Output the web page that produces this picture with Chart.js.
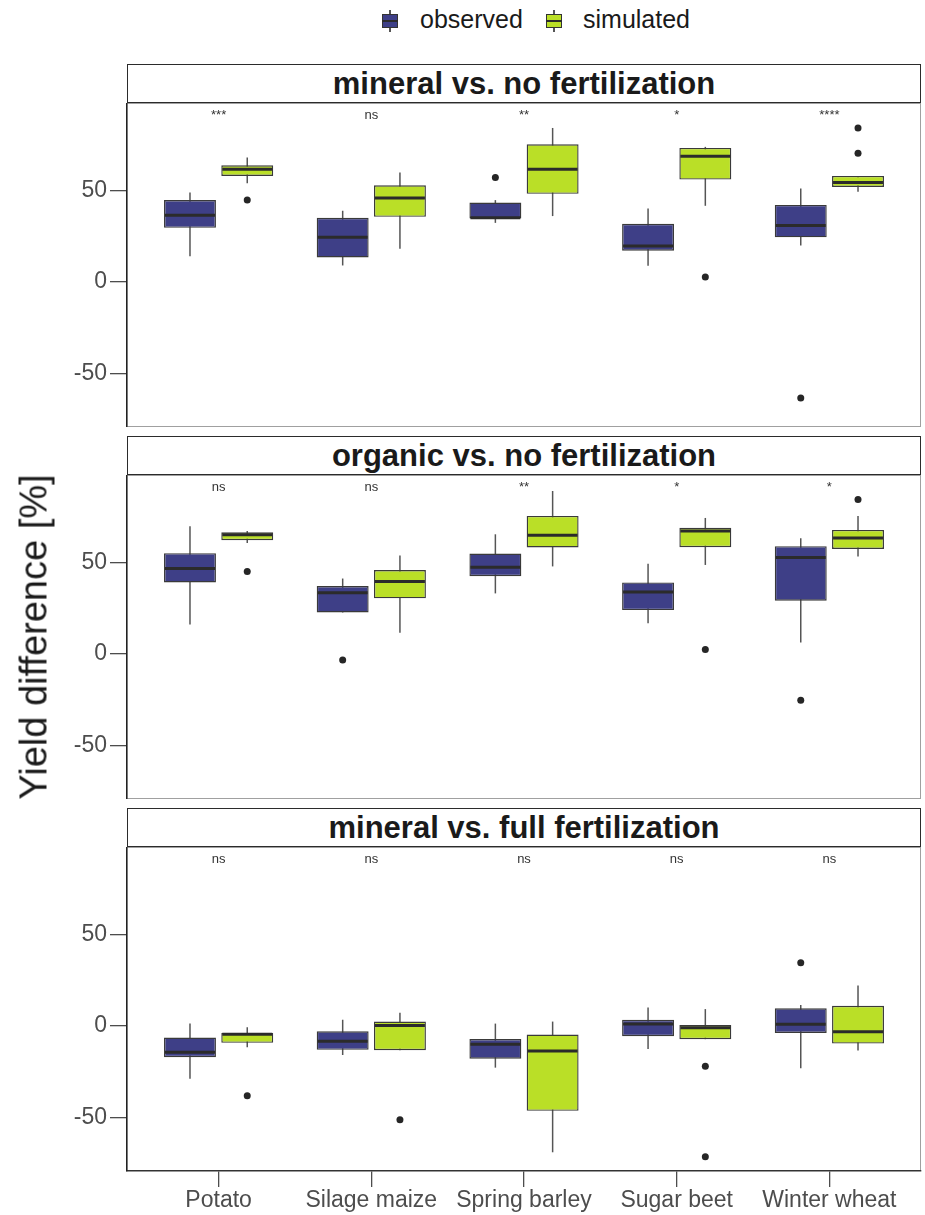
<!DOCTYPE html>
<html>
<head>
<meta charset="utf-8">
<script src="https://cdn.jsdelivr.net/npm/chart.js@4/dist/chart.umd.min.js"></script>
<style>
  body { margin: 0; background: #fff; font-family: "Liberation Sans", Arial, sans-serif; }
  #page { position: relative; width: 925px; height: 1215px; overflow: hidden; }
  canvas { position: absolute; left: 0; }
  .strip { position: absolute; left: 127px; width: 794px; height: 39px; box-sizing: border-box;
           border: 1.5px solid #2b2b2b; background: #fff; display: flex; align-items: center;
           justify-content: center; font-weight: bold; font-size: 31px; color: #1a1a1a; z-index: 2; }
  .key { position: absolute; top: 10px; width: 16px; height: 22px; }
  .key .w { position: absolute; left: 7.4px; top: 0; width: 1.2px; height: 22px; background: #555; }
  .key .b { position: absolute; left: 0; top: 4px; width: 16px; height: 14px; box-sizing: border-box; border: 1px solid #333; }
  .key .m { position: absolute; left: 0; top: 10px; width: 16px; height: 2px; background: #2b2b2b; }
  .ktext { position: absolute; top: 7px; font-size: 25px; line-height: 25px; color: #1a1a1a; }
  #ytitle { position: absolute; left: 34px; top: 637px; transform: translate(-50%, -50%) rotate(-90deg);
            font-size: 38px; color: #1a1a1a; white-space: nowrap; }
</style>
</head>
<body>
<div id="page">
  <div class="key" style="left:382px"><div class="w"></div><div class="b" style="background:#3e3f87"></div><div class="m"></div></div>
  <div class="ktext" style="left:420px">observed</div>
  <div class="key" style="left:546px"><div class="w"></div><div class="b" style="background:#badf27"></div><div class="m"></div></div>
  <div class="ktext" style="left:583px">simulated</div>

  <div class="strip" style="top:64px">mineral vs. no fertilization</div>
  <canvas id="p1" width="925" height="324" style="top:103px"></canvas>
  <div class="strip" style="top:436px">organic vs. no fertilization</div>
  <canvas id="p2" width="925" height="324" style="top:475px"></canvas>
  <div class="strip" style="top:808px">mineral vs. full fertilization</div>
  <canvas id="p3" width="925" height="368" style="top:847px"></canvas>

  <div id="ytitle">Yield difference [%]</div>
</div>

<script>
// crops on the x axis
const crops = ['Potato', 'Silage maize', 'Spring barley', 'Sugar beet', 'Winter wheat'];
const yTicks = [-50, 0, 50];

// box stats per crop: [lower whisker, Q1, median, Q3, upper whisker]
// mineral vs. no fertilization
const p1Observed = [[14, 29.5, 36.4, 44.6, 48.7], [9, 13.4, 24.3, 35, 38.8], [32.2, 34.6, 35, 43.3, 44.6], [8.9, 17, 19.6, 31.7, 40], [19.9, 24.3, 30.8, 42, 50.9]];
const p1Simulated = [[53.8, 57.8, 61.4, 63.6, 67.8], [18.1, 35.5, 45.8, 52.7, 59.6], [35.9, 48, 61.4, 75, 83.9], [41.5, 55.8, 68.5, 73, 73.6], [49.1, 51.8, 54.2, 57.8, 57.8]];
const p1ObsOut = [[], [], [56.9], [], [-63.2]];
const p1SimOut = [[44.6], [], [], [2.7], [70.1, 83.9]];
const p1Signif = ['***', 'ns', '**', '*', '****'];

// organic vs. no fertilization
const p2Observed = [[16.1, 39, 46.6, 54.9, 69.6], [22.6, 22.6, 33.3, 37, 41.1], [33, 42.4, 47.3, 54.7, 65.2], [16.7, 23.9, 33.7, 39, 49.1], [6.2, 29, 52.5, 58.7, 63]];
const p2Simulated = [[60.5, 62, 65, 66.3, 67], [11.6, 30.3, 39.5, 45.7, 53.6], [47.7, 58, 64.7, 75.2, 88.8], [48.5, 58.2, 67, 68.7, 74.1], [53.1, 57.2, 63.2, 67.6, 75.2]];
const p2ObsOut = [[], [-3.3], [], [], [-25.2]];
const p2SimOut = [[44.9], [], [], [2.4], [84.1]];
const p2Signif = ['ns', 'ns', '**', '*', '*'];

// mineral vs. full fertilization
const p3Observed = [[-28.8, -17, -14.3, -6.3, 1.3], [-15.8, -13, -8.3, -2.9, 3.4], [-22.7, -17.8, -10, -7.1, 1.3], [-12.5, -5.6, 1.1, 3.4, 10.1], [-23, -3.8, 0.9, 9.6, 11.4]];
const p3Simulated = [[-11.6, -9.2, -4.5, -3.8, -0.7], [-13.2, -13.2, 0.2, 2.4, 7.2], [-68.8, -46.2, -13.6, -4.7, 2.4], [-7.2, -7.2, -0.9, 0.5, 9.2], [-13.4, -9.6, -3.1, 11, 22.1]];
const p3ObsOut = [[], [], [], [], [34.4]];
const p3SimOut = [[-38], [-51.1], [], [-21.9, -71.2], []];
const p3Signif = ['ns', 'ns', 'ns', 'ns', 'ns'];

const obsColor = '#3e3f87';
const simColor = '#badf27';
const groupWidth = 0.75;            // dodge width, in category units
const dodge = groupWidth / 4;

Chart.defaults.font.family = '"Liberation Sans", Arial, sans-serif';

// whiskers behind the boxes, medians and labels on top
const boxPlugin = {
  id: 'boxParts',
  beforeDraw(chart) {
    const a = chart.chartArea, ctx = chart.ctx;
    ctx.save();
    ctx.strokeStyle = '#a0a0a0';
    ctx.lineWidth = 1;
    ctx.strokeRect(a.left, a.top + 0.5, a.right - a.left - 0.5, a.bottom - a.top - 1);
    ctx.restore();
  },
  beforeDatasetsDraw(chart) {
    const ctx = chart.ctx, y = chart.scales.y;
    ctx.save();
    ctx.strokeStyle = '#555';
    ctx.lineWidth = 1.5;
    chart.data.datasets.forEach((ds, di) => {
      if (!ds.stats) return;
      chart.getDatasetMeta(di).data.forEach((bar, i) => {
        const s = ds.stats[i];
        ctx.beginPath();
        ctx.moveTo(bar.x, y.getPixelForValue(s[0]));
        ctx.lineTo(bar.x, y.getPixelForValue(s[4]));
        ctx.stroke();
      });
    });
    ctx.restore();
  },
  afterDatasetsDraw(chart) {
    const ctx = chart.ctx, x = chart.scales.x, y = chart.scales.y;
    ctx.save();
    ctx.strokeStyle = '#2b2b2b';
    ctx.lineWidth = 3;
    chart.data.datasets.forEach((ds, di) => {
      if (!ds.stats) return;
      chart.getDatasetMeta(di).data.forEach((bar, i) => {
        const py = y.getPixelForValue(ds.stats[i][2]);
        ctx.beginPath();
        ctx.moveTo(bar.x - bar.width / 2 + 1, py);
        ctx.lineTo(bar.x + bar.width / 2 - 1, py);
        ctx.stroke();
      });
    });
    const sig = chart.options.plugins.boxParts.signif;
    ctx.fillStyle = '#333';
    ctx.font = '13px "Liberation Sans", Arial, sans-serif';
    ctx.textAlign = 'center';
    ctx.textBaseline = 'alphabetic';
    sig.forEach((t, i) => ctx.fillText(t, x.getPixelForValue(i + 1), y.getPixelForValue(89)));
    ctx.restore();
  }
};

function outliers(list, shift) {
  return list.flatMap((vals, i) => vals.map(v => ({ x: i + 1 + shift, y: v })));
}

function makePanel(id, observed, simulated, obsOut, simOut, signif, showX) {
  const boxes = (stats, color, label) => ({
    type: 'bar',
    label: label,
    data: stats.map((s, i) => ({ x: i + 1, y: [s[1], s[3]] })),
    stats: stats,
    backgroundColor: color,
    borderColor: '#3a3a3a',
    borderWidth: 1.4,
    borderSkipped: false,
    categoryPercentage: groupWidth,
    barPercentage: 0.907
  });
  const points = (data) => ({
    type: 'scatter',
    data: data,
    pointRadius: 3.5,
    pointBackgroundColor: '#262626',
    pointBorderWidth: 0
  });

  new Chart(document.getElementById(id), {
    type: 'bar',
    data: {
      datasets: [
        boxes(observed, obsColor, 'observed'),
        boxes(simulated, simColor, 'simulated'),
        points(outliers(obsOut, -dodge)),
        points(outliers(simOut, dodge))
      ]
    },
    options: {
      responsive: false,
      animation: false,
      events: [],
      layout: { autoPadding: false, padding: { left: 0, right: 4, top: 0, bottom: 0 } },
      plugins: {
        legend: { display: false },
        tooltip: { enabled: false },
        boxParts: { signif: signif }
      },
      scales: {
        x: {
          type: 'linear',
          min: 0.4,
          max: 5.6,
          offset: false,
          display: showX,
          afterBuildTicks: s => { s.ticks = crops.map((c, i) => ({ value: i + 1 })); },
          afterFit: s => {
            s.height = showX ? 44 : 0;
            s.paddingLeft = 0; s.paddingRight = 0;
          },
          ticks: {
            callback: (v) => crops[v - 1],
            color: '#4d4d4d',
            font: { size: 23 },
            padding: 0,
            maxRotation: 0,
            autoSkip: false
          },
          grid: { offset: false, drawOnChartArea: false, drawTicks: true, tickLength: 16, color: '#4d4d4d', lineWidth: 1.3 },
          border: { display: true, color: '#333', width: 1.5 }
        },
        y: {
          min: -79,
          max: 97.5,
          afterBuildTicks: s => { s.ticks = yTicks.map(v => ({ value: v })); },
          afterFit: s => {
            s.width = 127;
            s.paddingTop = 0; s.paddingBottom = 0;
          },
          ticks: { color: '#4d4d4d', font: { size: 23 }, padding: 3 },
          grid: { drawOnChartArea: false, drawTicks: true, tickLength: 17, color: '#4d4d4d', lineWidth: 1.3 },
          border: { display: true, color: '#222', width: 1.5 }
        }
      }
    },
    plugins: [boxPlugin]
  });
}

makePanel('p1', p1Observed, p1Simulated, p1ObsOut, p1SimOut, p1Signif, false);
makePanel('p2', p2Observed, p2Simulated, p2ObsOut, p2SimOut, p2Signif, false);
makePanel('p3', p3Observed, p3Simulated, p3ObsOut, p3SimOut, p3Signif, true);
</script>
</body>
</html>
